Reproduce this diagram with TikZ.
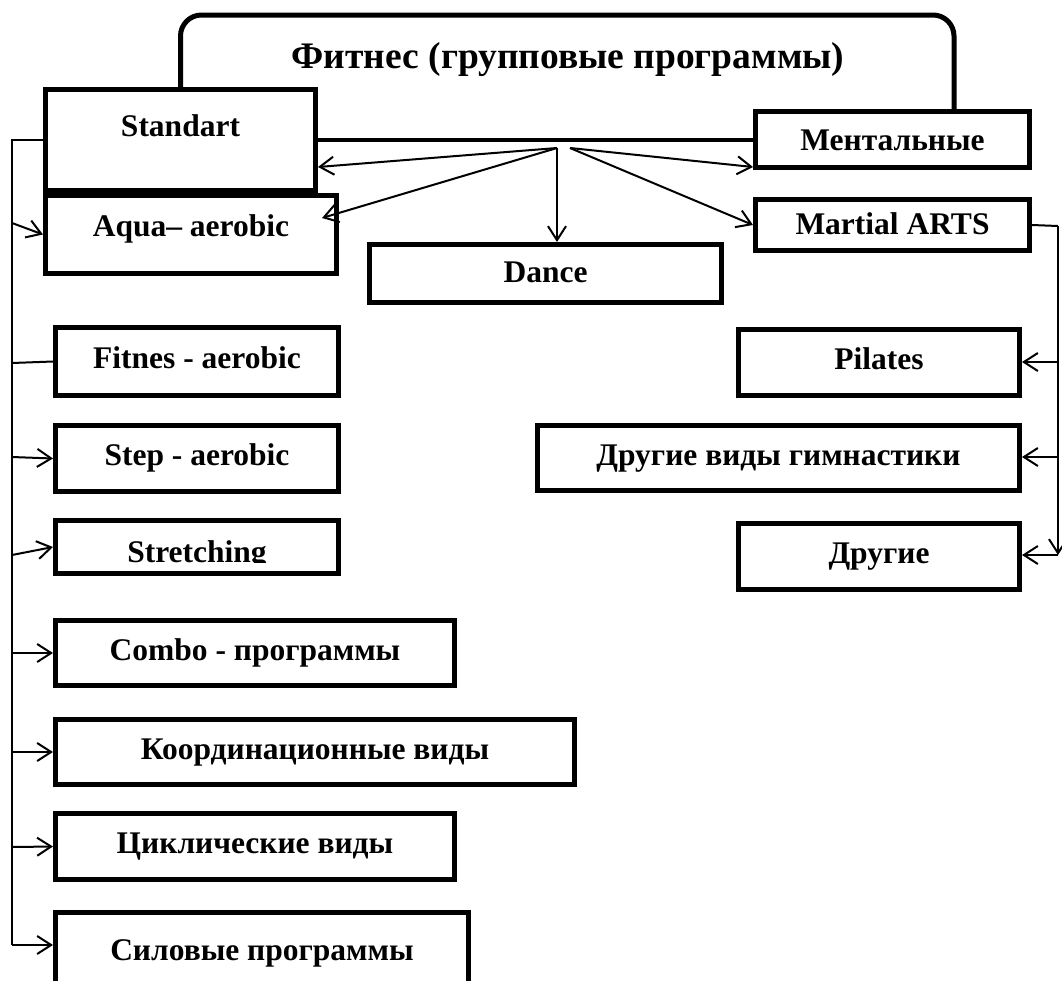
\documentclass[tikz,border=0pt]{standalone}
\usepackage{fontspec}
\setmainfont{Liberation Serif}
\usetikzlibrary{arrows.meta}
\begin{document}
\begin{tikzpicture}[x=1pt,y=-1pt,
  box/.style={draw,line width=5pt,rectangle,inner sep=0pt,
    font=\fontsize{31.5}{36}\selectfont\bfseries,text height=21.4pt,text depth=7pt},
  lbl/.style={inner sep=0pt,font=\fontsize{31.5}{36}\selectfont\bfseries},
  ttl/.style={inner sep=0pt,font=\fontsize{37.5}{42}\selectfont\bfseries},
  frame/.style={line width=5pt,rounded corners=21pt},
  bar/.style={line width=4.5pt},
  arr/.style={line width=2pt,-{Straight Barb[length=14pt,width=18pt]}},
  ln/.style={line width=2pt},
  vln/.style={line width=1.6pt}]
\useasboundingbox (0,0) rectangle (1062,980);
\clip (0,0) rectangle (1062,980);
\fill[white] (0,0) rectangle (1062,980);

% left column boxes
\node[box,minimum width=270pt,minimum height=101pt] (std) at (180.5,140) {};
\node[lbl,anchor=base] (stdt) at (180.5,136) {Standart};
\node[box,minimum width=291pt,minimum height=78pt] (aqua) at (191,234.5) {};
\node[lbl,anchor=base] (aquat) at (191,236) {Aqua– aerobic};
\node[box,minimum width=352pt,minimum height=58pt,text height=24pt] (dance) at (545.5,273.5) {Dance};
\node[box,minimum width=274pt,minimum height=56pt,text height=29pt] (ment) at (892.5,139.5) {Ментальные};
\node[box,minimum width=274pt,minimum height=51pt,text height=25pt] (mart) at (892.5,225) {Martial ARTS};

\node[box,minimum width=283pt,minimum height=68pt] (fit) at (197,361.5) {Fitnes - aerobic};
\node[box,minimum width=283pt,minimum height=66pt] (step) at (197,458.5) {Step - aerobic};
\node[box,minimum width=283pt,minimum height=53pt] (str) at (197,547) {};
\begin{scope}
  \clip (56,521) rectangle (338,562.5);
  \node[lbl,anchor=base] (strt) at (197,562) {Stretching};
\end{scope}
\node[box,minimum width=399pt,minimum height=65pt] (combo) at (255,653) {Combo - программы};
\node[box,minimum width=519pt,minimum height=65pt] (koord) at (315,752) {Координационные виды};
\node[box,minimum width=399pt,minimum height=66pt] (cycl) at (255,846.5) {Циклические виды};
\node[box,minimum width=413pt,minimum height=75pt,text height=27pt] (sil) at (262,950) {Силовые программы};

% right column boxes
\node[box,minimum width=281pt,minimum height=66pt] (pil) at (879,362.5) {Pilates};
\node[box,minimum width=482pt,minimum height=65pt] (dvg) at (778.5,458) {Другие виды гимнастики};
\node[box,minimum width=281pt,minimum height=66pt] (dr) at (879,556.5) {Другие};

% title and frame
\node[ttl,anchor=base] (title) at (568,68) {Фитнес (групповые программы)};
\coordinate (fr) at (954,15);
\draw[frame] (std.north) |- (fr) -- (fr |- ment.north);

% thick horizontal bar
\draw[bar] (std.east) -- (std.east -| ment.west);

% hub arrows
\coordinate (hubL) at (557,148);
\coordinate (hubR) at (570,148);
\draw[arr] (hubL) -- ([yshift=-27pt]std.east);
\draw[arr] (hubL) -- ([xshift=-17pt,yshift=16.5pt]aqua.east);
\draw[arr] (hubL) -- (hubL |- dance.north);
\draw[arr] (hubR) -- ([yshift=-27.5pt]ment.west);
\draw[arr] (hubR) -- (mart.west);

% left trunk
\coordinate (L0) at (12,140);
\coordinate (La) at (12,223);
\coordinate (Lf) at (12,363);
\coordinate (Ls) at (12,457);
\coordinate (Lt) at (12,555);
\coordinate (Lc) at (12,653);
\coordinate (Lk) at (12,752);
\coordinate (Ly) at (12,847);
\coordinate (Lend) at (12,945);
\draw[vln] (std.west) -- (L0) -- (Lend);
\draw[arr] (La) -- (aqua.west);
\draw[ln] (Lf) -- (fit.west);
\draw[arr] (Ls) -- (step.west);
\draw[arr] (Lt) -- (str.west);
\draw[arr] (Lc) -- (combo.west);
\draw[arr] (Lk) -- (koord.west);
\draw[arr] (Ly) -- (cycl.west);
\draw[arr] (Lend) -- (sil.west |- Lend);

% right trunk
\coordinate (R0) at (1058,226);
\coordinate (Rp) at (1058,362);
\coordinate (Rg) at (1058,457);
\coordinate (Rend) at (1058,555);
\draw[ln] (mart.east) -- (R0);
\draw[arr] (R0) -- (Rend);
\draw[arr] (Rp) -- (pil.east |- Rp);
\draw[arr] (Rg) -- (dvg.east |- Rg);
\draw[arr] (Rend) -- (dr.east |- Rend);
\end{tikzpicture}
\end{document}
